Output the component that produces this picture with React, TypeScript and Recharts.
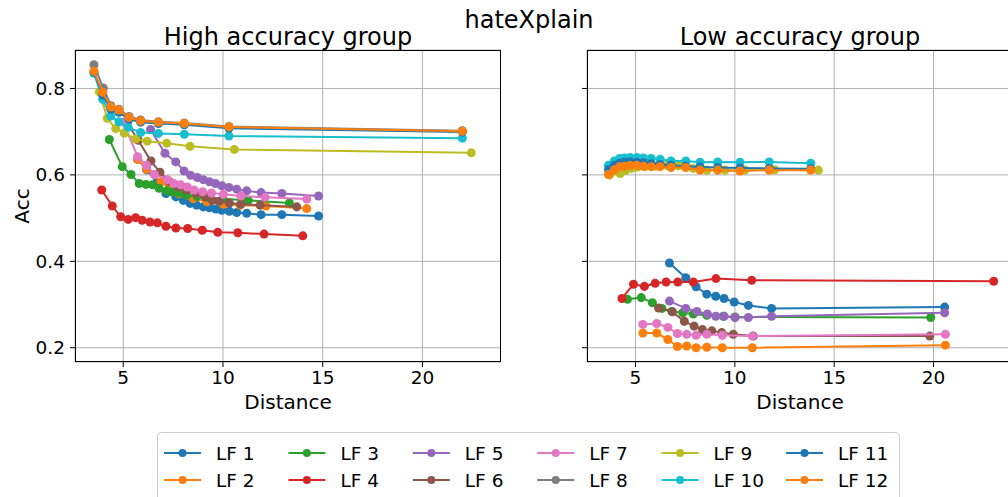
import { ScatterChart, Scatter, XAxis, YAxis, CartesianGrid } from "recharts";

const LF_NAMES = ["LF 1", "LF 2", "LF 3", "LF 4", "LF 5", "LF 6", "LF 7", "LF 8", "LF 9", "LF 10", "LF 11", "LF 12"];
const COLORS = ["#1f77b4", "#ff7f0e", "#2ca02c", "#d62728", "#9467bd", "#8c564b", "#e377c2", "#7f7f7f", "#bcbd22", "#17becf", "#1f77b4", "#ff7f0e"];
const X_TICKS = [5, 10, 15, 20];
const Y_TICKS = [0.2, 0.4, 0.6, 0.8];

// High accuracy group: [distance, acc]
const highLF1 = [[5.72, 0.636], [6.17, 0.612], [6.7, 0.582], [7.14, 0.557], [7.64, 0.549], [8.01, 0.541], [8.35, 0.534], [8.68, 0.53], [9.01, 0.526], [9.32, 0.524], [9.64, 0.521], [9.94, 0.518], [10.32, 0.516], [10.69, 0.513], [11.19, 0.511], [11.91, 0.508], [12.95, 0.508], [14.79, 0.505]];
const highLF2 = [[5.72, 0.636], [6.17, 0.613], [6.89, 0.584], [7.3, 0.57], [7.8, 0.556], [8.51, 0.545], [9.2, 0.538], [10.02, 0.532], [10.86, 0.53], [12.16, 0.528], [14.2, 0.522]];
const highLF3 = [[4.3, 0.682], [4.95, 0.619], [5.39, 0.601], [5.8, 0.58], [6.14, 0.578], [6.47, 0.577], [6.79, 0.569], [7.18, 0.563], [7.48, 0.561], [7.81, 0.558], [8.18, 0.553], [8.7, 0.55], [9.3, 0.547], [10.0, 0.545], [11.27, 0.541], [13.33, 0.535]];
const highLF4 = [[3.92, 0.565], [4.45, 0.528], [4.87, 0.503], [5.25, 0.497], [5.62, 0.501], [5.95, 0.495], [6.34, 0.491], [6.71, 0.489], [7.14, 0.481], [7.64, 0.477], [8.23, 0.476], [8.96, 0.472], [9.74, 0.467], [10.74, 0.466], [12.06, 0.463], [14.0, 0.459]];
const highLF5 = [[6.37, 0.705], [7.09, 0.65], [7.63, 0.63], [8.05, 0.609], [8.38, 0.599], [8.71, 0.594], [9.01, 0.589], [9.32, 0.584], [9.62, 0.58], [9.94, 0.575], [10.3, 0.571], [10.69, 0.567], [11.19, 0.563], [11.91, 0.559], [12.95, 0.557], [14.79, 0.551]];
const highLF6 = [[5.2, 0.72], [5.75, 0.68], [6.39, 0.632], [6.84, 0.606], [7.3, 0.585], [7.75, 0.572], [8.18, 0.565], [8.65, 0.557], [9.1, 0.549], [9.47, 0.541], [9.82, 0.539], [10.32, 0.535], [10.89, 0.532], [11.86, 0.53], [13.7, 0.526]];
const highLF7 = [[5.0, 0.722], [5.72, 0.642], [6.17, 0.622], [6.56, 0.601], [7.21, 0.589], [7.54, 0.58], [7.88, 0.577], [8.21, 0.572], [8.55, 0.565], [8.98, 0.561], [9.43, 0.558], [10.02, 0.555], [10.9, 0.551], [12.11, 0.548], [14.2, 0.544]];
const highLF8 = [[3.53, 0.855], [4.0, 0.801], [4.38, 0.76], [4.78, 0.752], [5.29, 0.735], [5.87, 0.727], [6.76, 0.723], [8.06, 0.72], [10.3, 0.712], [22.0, 0.702]];
const highLF9 = [[3.8, 0.792], [4.2, 0.731], [4.62, 0.707], [5.05, 0.697], [5.62, 0.683], [6.2, 0.678], [7.18, 0.673], [8.35, 0.666], [10.57, 0.659], [22.45, 0.651]];
const highLF10 = [[3.53, 0.835], [3.97, 0.775], [4.37, 0.736], [4.78, 0.723], [5.25, 0.71], [5.87, 0.698], [6.76, 0.696], [8.06, 0.694], [10.3, 0.69], [22.0, 0.685]];
const highLF11 = [[3.53, 0.838], [3.97, 0.785], [4.38, 0.752], [4.78, 0.745], [5.29, 0.729], [5.87, 0.722], [6.76, 0.719], [8.06, 0.716], [10.3, 0.708], [22.0, 0.699]];
const highLF12 = [[3.53, 0.84], [3.97, 0.791], [4.38, 0.757], [4.78, 0.75], [5.29, 0.733], [5.87, 0.725], [6.76, 0.722], [8.06, 0.719], [10.3, 0.711], [22.0, 0.701]];

// Low accuracy group
const lowLF1 = [[6.71, 0.396], [7.53, 0.362], [8.05, 0.341], [8.59, 0.324], [9.04, 0.319], [9.46, 0.314], [9.97, 0.306], [10.68, 0.298], [11.85, 0.291], [20.56, 0.294]];
const lowLF2 = [[5.37, 0.234], [6.07, 0.234], [6.63, 0.219], [7.11, 0.203], [7.58, 0.204], [8.05, 0.2], [8.59, 0.201], [9.37, 0.2], [10.88, 0.2], [20.6, 0.206]];
const lowLF3 = [[4.6, 0.312], [5.29, 0.316], [5.85, 0.304], [6.33, 0.291], [6.83, 0.284], [7.38, 0.281], [7.91, 0.278], [8.59, 0.275], [9.42, 0.273], [10.01, 0.271], [19.86, 0.27]];
const lowLF4 = [[4.32, 0.314], [4.9, 0.347], [5.45, 0.342], [5.99, 0.349], [6.54, 0.352], [7.13, 0.352], [7.91, 0.352], [9.05, 0.36], [10.85, 0.356], [23.03, 0.354]];
const lowLF5 = [[6.71, 0.308], [7.53, 0.291], [8.09, 0.284], [8.62, 0.278], [9.04, 0.273], [9.46, 0.273], [10.01, 0.27], [10.68, 0.27], [11.85, 0.273], [20.56, 0.281]];
const lowLF6 = [[6.16, 0.292], [6.86, 0.283], [7.46, 0.261], [7.95, 0.25], [8.37, 0.242], [8.84, 0.239], [9.34, 0.235], [9.92, 0.231], [10.93, 0.227], [19.81, 0.227]];
const lowLF7 = [[5.37, 0.254], [6.07, 0.256], [6.63, 0.247], [7.11, 0.233], [7.58, 0.231], [8.05, 0.229], [8.59, 0.231], [9.37, 0.229], [10.88, 0.227], [20.6, 0.231]];
const lowLF9 = [[3.7, 0.6], [4.23, 0.603], [4.5, 0.61], [4.8, 0.615], [5.1, 0.618], [5.5, 0.619], [6.0, 0.62], [6.58, 0.622], [7.17, 0.621], [7.9, 0.615], [8.6, 0.611], [9.5, 0.611], [10.5, 0.611], [12.0, 0.612], [14.2, 0.611]];
const lowLF10 = [[3.64, 0.622], [3.94, 0.632], [4.2, 0.638], [4.45, 0.639], [4.73, 0.64], [5.07, 0.64], [5.4, 0.639], [5.79, 0.638], [6.24, 0.636], [6.79, 0.632], [7.53, 0.632], [8.25, 0.629], [9.14, 0.63], [10.26, 0.629], [11.73, 0.63], [13.82, 0.627]];
const lowLF11 = [[3.64, 0.612], [3.94, 0.622], [4.2, 0.627], [4.45, 0.629], [4.73, 0.63], [5.07, 0.629], [5.4, 0.628], [5.79, 0.626], [6.24, 0.624], [6.79, 0.622], [7.53, 0.62], [8.25, 0.618], [9.14, 0.617], [10.26, 0.616], [11.73, 0.615], [13.82, 0.614]];
const lowLF12 = [[3.64, 0.601], [3.94, 0.612], [4.2, 0.619], [4.45, 0.62], [4.73, 0.622], [5.07, 0.622], [5.4, 0.62], [5.79, 0.619], [6.24, 0.619], [6.79, 0.617], [7.53, 0.617], [8.25, 0.611], [9.14, 0.611], [10.26, 0.609], [11.73, 0.611], [13.82, 0.611]];

const HIGH = [highLF1, highLF2, highLF3, highLF4, highLF5, highLF6, highLF7, highLF8, highLF9, highLF10, highLF11, highLF12];
const LOW = [lowLF1, lowLF2, lowLF3, lowLF4, lowLF5, lowLF6, lowLF7, null, lowLF9, lowLF10, lowLF11, lowLF12];

const FONT = "DejaVu Sans, sans-serif";
const toPts = (arr: number[][]) => arr.map(([x, y]) => ({ x, y }));

function Panel({ series, xDomain, width, left, showYLabels }: any) {
  const tickStyle = { fill: "#000", fontSize: 18.5, fontFamily: FONT };
  return (
    <ScatterChart
      width={width}
      height={420}
      margin={{ top: 50, right: 0, bottom: 28, left: left }}
      style={{ position: "absolute", top: 0 }}
    >
      <CartesianGrid stroke="#b0b0b0" strokeWidth={1} />
      <XAxis
        type="number"
        dataKey="x"
        domain={xDomain}
        ticks={X_TICKS}
        allowDataOverflow
        axisLine={false}
        tickLine={{ stroke: "#000" }}
        tickSize={5}
        tickMargin={4}
        height={30}
        tick={tickStyle}
      />
      <YAxis
        type="number"
        dataKey="y"
        domain={[0.167, 0.889]}
        ticks={Y_TICKS}
        allowDataOverflow
        axisLine={false}
        tickLine={{ stroke: "#000" }}
        tickSize={5}
        tickMargin={5}
        width={showYLabels ? 75 : 10}
        tick={showYLabels ? tickStyle : () => <g />}
        tickFormatter={(v: number) => v.toFixed(1)}
      />
      {series.map((s: number[][] | null, i: number) =>
        s ? (
          <Scatter
            key={LF_NAMES[i]}
            name={LF_NAMES[i]}
            data={toPts(s)}
            fill={COLORS[i]}
            line={{ stroke: COLORS[i], strokeWidth: 2 }}
            lineType="joint"
            isAnimationActive={false}
          />
        ) : null
      )}
    </ScatterChart>
  );
}

export default function App() {
  const colW = 124.4;
  return (
    <div style={{ position: "absolute", left: 0, top: 0, width: 1008, height: 497, overflow: "hidden", background: "#fff", fontFamily: FONT }}>
      <div style={{ position: "absolute", left: 0, top: 0 }}>
        <Panel series={HIGH} xDomain={[2.58, 23.94]} width={501} left={0} showYLabels />
      </div>
      <div style={{ position: "absolute", left: 570, top: 0 }}>
        <Panel series={LOW} xDomain={[2.56, 24.0]} width={443} left={7} showYLabels={false} />
      </div>
      {/* axes frames */}
      <div style={{ position: "absolute", left: 75, top: 50, width: 426, height: 312, border: "1px solid #000", boxSizing: "border-box", pointerEvents: "none" }} />
      <div style={{ position: "absolute", left: 587, top: 50, width: 430, height: 312, border: "1px solid #000", boxSizing: "border-box", pointerEvents: "none" }} />
      <svg width={1008} height={497} style={{ position: "absolute", left: 0, top: 0, pointerEvents: "none" }} fontFamily={FONT}>
        <text x={529} y={28} textAnchor="middle" fontSize={24}>hateXplain</text>
        <text x={288} y={45} textAnchor="middle" fontSize={24}>High accuracy group</text>
        <text x={800} y={45} textAnchor="middle" fontSize={24}>Low accuracy group</text>
        <text x={288} y={409} textAnchor="middle" fontSize={20}>Distance</text>
        <text x={800} y={409} textAnchor="middle" fontSize={20}>Distance</text>
        <text x={29} y={206} textAnchor="middle" fontSize={20} transform="rotate(-90, 29, 206)">Acc</text>
        <rect x={157.5} y={432.5} width={742} height={70} rx={4} fill="#fff" stroke="#cccccc" />
        {LF_NAMES.map((name, i) => {
          const col = Math.floor(i / 2);
          const row = i % 2;
          const x0 = 164 + col * colW;
          const y0 = 453 + row * 27;
          return (
            <g key={name}>
              <line x1={x0} x2={x0 + 37} y1={y0} y2={y0} stroke={COLORS[i]} strokeWidth={2} />
              <circle cx={x0 + 18.5} cy={y0} r={4} fill={COLORS[i]} />
              <text x={x0 + 52} y={y0 + 6.5} fontSize={18.5}>{name}</text>
            </g>
          );
        })}
      </svg>
    </div>
  );
}
